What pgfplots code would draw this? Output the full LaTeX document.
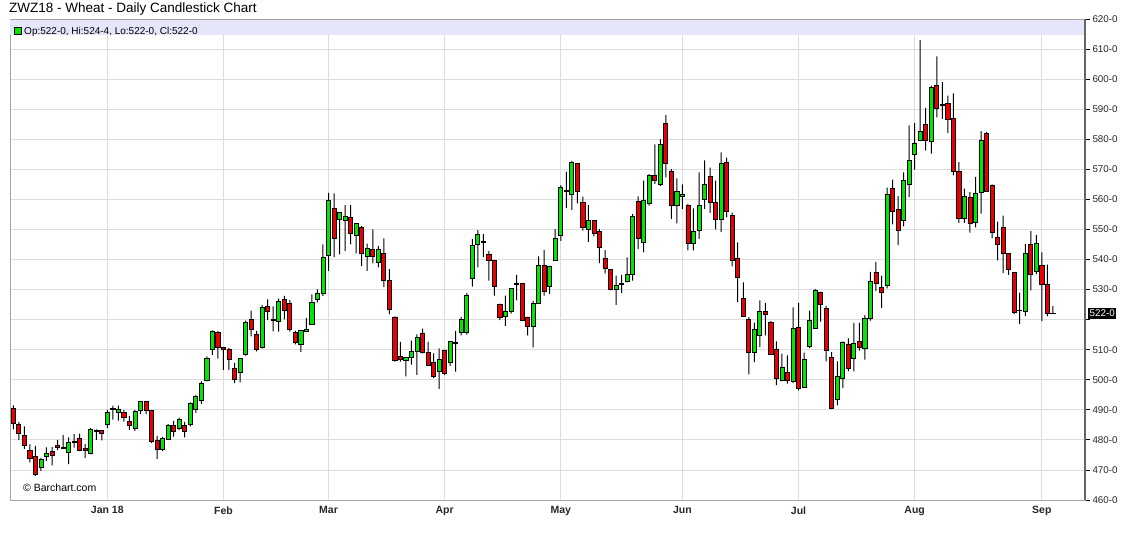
\documentclass[border=0pt]{standalone}
\usepackage{pgfplots}
\usepackage{pgfplotstable}
\usepackage{fontspec}
\setmainfont{Liberation Sans}
\pgfplotsset{compat=1.18}

\definecolor{upc}{RGB}{0,230,0}
\definecolor{dnc}{RGB}{235,0,0}
\definecolor{band}{RGB}{230,230,250}
\definecolor{gridc}{RGB}{221,221,221}
\definecolor{framec}{RGB}{165,165,165}

% ZWZ18 daily bars: x = trading day index, open / high / low / close
\pgfplotstableread{
x o h l c
0 490.5 491.5 483.5 485.5
1 485 486 480 482
2 481.5 484.5 477 478
3 476.5 478.5 472.5 474
4 474.5 478 468 468.5
5 471 474 469.7 473.5
6 474.5 477.5 473 475.5
7 476.3 477.7 471.5 475
8 478.2 480 476.6 477.4
9 477.5 481.7 476.9 477.3
10 476 480.8 471.9 479.3
11 479.5 481.9 477.4 479.3
12 480.6 482.1 476.3 476.6
13 477 478.6 473.9 476.6
14 475.5 483.9 475.2 483.6
15 483 483.5 480 482.8
16 483 483.2 479.8 482.2
17 485.2 490 483.9 489.2
18 490.4 491.4 486.7 490.2
19 489 491.4 486.4 490
20 489 490 486.1 487.4
21 486 488 483.3 484.8
22 483.8 490 483 489.4
23 489.8 492.7 488.6 492.7
24 492.7 492.7 488.6 489.8
25 489.8 490 478.9 479.4
26 479.8 481.3 473.7 476.9
27 476.7 481 476.3 480.6
28 480.2 485.2 480 484.8
29 484.8 486.3 481.1 482.8
30 483.9 487.4 483.3 486.7
31 484.8 486 480.8 482.8
32 485 492.5 484.5 492
33 490 495 489 494.5
34 493 499.5 492 498.7
35 499.8 507.8 499.5 507.2
36 510 516.4 508.3 516.1
37 515.6 516.2 507 510.6
38 510.8 510.8 503.3 510
39 510 510.6 503.3 506.7
40 503.9 505.6 498.9 500.2
41 502.4 507.2 499.1 507
42 508.3 519.7 508 519.1
43 520 523 514.4 516.7
44 515 516.3 509.4 510
45 510.6 524.8 510.4 524.1
46 524.4 526.7 519.8 522.6
47 520.1 524.4 516.1 519.9
48 519.5 527 516 526
49 526.6 527.9 520.1 523.1
50 525.5 526.6 516 516.6
51 515.7 516.3 511.8 512.4
52 511.8 516.3 509.3 516.3
53 516.1 520.5 516.1 516.8
54 518.5 528.4 518.5 525.7
55 526.8 530.1 525.7 528.7
56 528.7 545 527.9 540.6
57 541.2 562.2 536.2 559.7
58 556.9 562 540.8 547
59 553.4 555.8 541.7 555.6
60 553 558.1 542.8 554.5
61 553.9 558.1 545 548.6
62 548 551.9 542 551.9
63 550.6 551.1 537.9 542
64 541.1 545.3 536.2 543.6
65 543.4 550 538.7 541
66 539 544.5 537.4 543.4
67 542 547 530.8 533
68 533 536.8 521.8 523.3
69 520.9 521.1 506 506.4
70 507.7 512.6 506 506.8
71 506.4 507.4 501.1 507.4
72 507.4 513 505 509.3
73 509.3 515.1 501.6 514
74 515.4 517 508.8 509
75 509 512.6 504.6 504.9
76 505.7 508.8 500.5 501.1
77 502.7 510.4 497 506.8
78 509.9 509.9 501.6 502
79 505.7 512.6 504.6 512.6
80 512.4 516.3 502.7 512.2
81 515.9 520.9 514.8 520.1
82 515.9 528.8 515 528.2
83 533.7 546.9 531 544.7
84 545.1 549.8 537.4 548.4
85 546 548.4 540.9 545.8
86 541.8 542.9 533 539.8
87 539.8 539.8 528 531.1
88 524.9 525.3 519.8 520.9
89 521.2 528 517.9 522.9
90 522.9 530.4 522 530.4
91 532 534.9 526.4 531.8
92 531.9 532.1 519.8 519.8
93 520.9 520.9 514.8 517.9
94 517.9 526.2 510.8 525.5
95 525.3 541 525.3 537.9
96 537.9 543.1 528 529.4
97 531.1 537.9 528.6 537.7
98 539.6 550.1 539.6 547
99 547.9 564.7 546.2 563.9
100 563 569.2 557.1 562.8
101 561.7 572.8 556.5 572.4
102 571.9 571.9 558.7 562.8
103 559 560.9 549.6 550.7
104 550.1 558.1 545.9 553.1
105 553.1 553.1 547.7 548.8
106 549.2 550.1 538.8 544
107 540.4 543.1 535.4 537.2
108 536.6 536.6 529.7 530.2
109 530 534.6 524.9 531.5
110 532 534.9 528.8 531.8
111 532.8 540.7 532.4 534.9
112 534.9 555.1 533 554.5
113 559.2 561 543.5 546.9
114 545.7 566.2 542.4 559.8
115 558.7 568.4 557.9 568.1
116 568.1 578.3 565.1 566.4
117 564.9 580 564.5 578.3
118 585.3 588 567.3 572
119 569.3 570.1 553.5 558.1
120 558.1 567 552 562.5
121 561 565 556.8 561.8
122 557.9 558.5 543 545.2
123 545.2 557 543 549.3
124 549.6 569 546.9 557.9
125 560.1 573 556.8 564.9
126 567.6 570.6 555.5 559
127 559 566.2 550 553.5
128 553.5 575.6 549.1 572
129 572.2 573.9 554 556
130 554.8 555.6 537.7 539.6
131 540.2 545.7 525.8 534.1
132 527.1 532.4 520.8 521
133 520 520.8 501.8 509.2
134 509 519 505.9 516.7
135 514.8 526.4 510.9 522.7
136 522.7 525.6 514.8 521.6
137 519 519.5 508.5 508.5
138 510 512.8 498.2 500.6
139 499.8 508.7 499.5 504
140 502.3 508.1 498.7 499.8
141 499.3 524.1 499 517
142 517.3 525.6 496.5 497.1
143 497.6 509 497.6 506.8
144 511 523 510.5 519.9
145 517.2 530.2 517 529.7
146 529.1 529.3 519.3 524.9
147 523.8 524.6 506.1 509.7
148 507.5 509.2 490.2 490.6
149 493.4 506.1 491.5 501.2
150 500.6 512.8 497.2 512.5
151 511.9 513.8 502.8 503.9
152 507.2 518.9 502.8 512.2
153 512.7 518.9 509.7 510.8
154 510.5 521.5 506.7 520.4
155 520.4 535.9 519.7 532.7
156 535.7 539.2 529.6 532.2
157 530.7 534.6 523.8 529.1
158 531.5 563.9 530.4 561.7
159 563.5 566.6 551.7 556.1
160 556.7 561.1 544.8 549.8
161 553 569 551 566.3
162 565 584.6 560.8 573
163 575 585.4 569.9 578.7
164 579.6 613 579.4 582.7
165 584.9 590.4 576.3 579.6
166 579.4 597.8 575.2 597.3
167 597.8 607.6 587.3 590.1
168 591.6 599 586.8 591.4
169 592 594.5 582 586.5
170 587 595.3 568 569.4
171 569.4 572.4 552.2 553.6
172 553.6 563.6 552.2 561
173 560.8 562.5 548.9 552
174 552.3 567.5 550.7 561.9
175 562.2 582.7 555.3 579.6
176 581.8 582.4 562.5 562.5
177 564.7 565 547 549
178 547.2 552.6 539.7 545
179 550.7 554.6 535.5 541.9
180 541.9 541.9 534.9 536.6
181 535.8 535.8 521.8 522.5
182 523.2 529 518.5 523
183 522.9 545.2 521.2 541.9
184 544.9 549.4 529.7 534.9
185 536 548.2 535.2 545.4
186 538 542.4 519.6 531.6
187 531.6 538.3 521.1 522
188 522.2 524.5 522 522
}\wheat

\pgfplotsset{
  cframe/.style={
    at={(10pt,42pt)}, anchor=south west,
    scale only axis, width=1075pt, height=481pt,
    xmin=-0.6, xmax=193.8, ymin=460, ymax=620,
    enlargelimits=false,
  },
}

\begin{document}
\begin{tikzpicture}
\useasboundingbox (0,0) rectangle (1128pt,542pt);

% grid, ticks and wicks
\begin{axis}[cframe,
  ybar stacked, bar width=1pt,
  axis line style={framec},
  grid=major, grid style={gridc, line width=0.8pt},
  xtick={17,38,57,78,99,121,142,163,186},
  xticklabels={Jan 18,Feb,Mar,Apr,May,Jun,Jul,Aug,Sep},
  xtick style={draw=none},
  xticklabel style={font=\fontsize{10.5}{12}\selectfont\bfseries, text=black!85, yshift=2pt},
  ytick={460,470,...,620},
  yticklabels={460-0,470-0,480-0,490-0,500-0,510-0,,530-0,540-0,550-0,560-0,570-0,580-0,590-0,600-0,610-0,620-0},
  yticklabel pos=right, ytick pos=right,
  tick align=outside, major tick length=5pt,
  ytick style={black, line width=0.8pt},
  yticklabel style={font=\fontsize{9.8}{11}\selectfont, text=black!85, xshift=-1pt},
]
\addplot[draw=none, fill=none] table[x=x, y=l] {\wheat};
\addplot[draw=none, fill=black] table[x=x, y expr=\thisrow{h}-\thisrow{l}] {\wheat};
\end{axis}

\fill[band] (10.4pt,507pt) rectangle (1084.6pt,522pt);

% candle bodies
\begin{axis}[cframe, hide axis,
  ybar stacked, bar width=0.74,
  legend style={at={(0.003,0.99)}, anchor=north west, draw=none, fill=none,
    inner sep=1pt, font=\fontsize{10}{12}\selectfont},
  legend cell align=left,
]
\addlegendimage{legend image code/.code={\draw[fill=upc, draw=black, line width=0.8pt] (0pt,-3.5pt) rectangle (7pt,3.5pt);}}
\addlegendentry{Op:522-0, Hi:524-4, Lo:522-0, Cl:522-0}
\addplot[draw=none, fill=none] table[x=x, y expr={min(\thisrow{o},\thisrow{c})}] {\wheat};
\addplot[fill=upc, draw=black, line width=0.8pt] table[x=x, y expr={max(\thisrow{c}-\thisrow{o},0)}] {\wheat};
\addplot[fill=dnc, draw=black, line width=0.8pt] table[x=x, y expr={max(\thisrow{o}-\thisrow{c},0)}] {\wheat};
\end{axis}

\draw[black!60, line width=1.6pt] (1085pt,42pt) -- (1085pt,523pt);
\node[anchor=west, inner sep=0pt, font=\fontsize{13.5}{15}\selectfont] at (9pt,532.5pt) {ZWZ18 - Wheat - Daily Candlestick Chart};
\node[anchor=west, inner sep=0pt, font=\fontsize{10.5}{12}\selectfont] at (23pt,54pt) {© Barchart.com};
\node[anchor=west, fill=black, text=white, inner xsep=1.5pt, inner ysep=2pt, font=\fontsize{9.8}{11}\selectfont] at (1088pt,228.4pt) {522-0};
\end{tikzpicture}
\end{document}
